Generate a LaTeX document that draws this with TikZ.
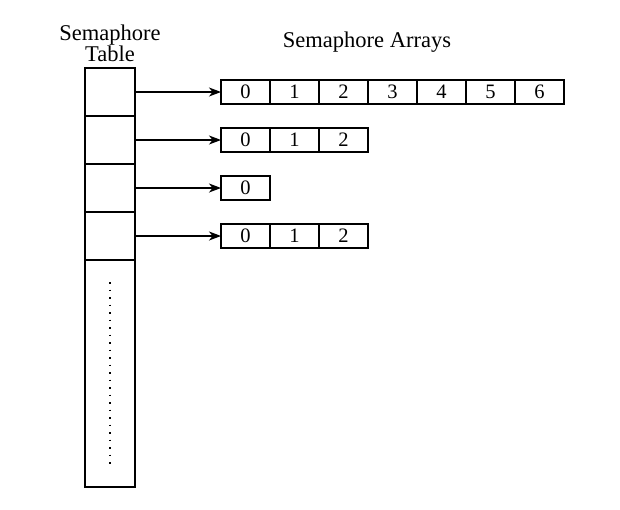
\documentclass[tikz,border=0pt]{standalone}
\usepackage{fontspec}
\setmainfont{Liberation Serif}
\usetikzlibrary{arrows.meta}
\begin{document}
\begin{tikzpicture}[x=1pt,y=-1pt, line width=1.3pt,
  tcell/.style={draw, minimum width=50pt, minimum height=48pt, inner sep=0pt, outer sep=0pt, anchor=north west},
  acell/.style={draw, minimum width=49pt, minimum height=24pt, inner sep=0pt, outer sep=0pt, anchor=north west, font=\fontsize{20.5}{20.5}\selectfont},
  ptr/.style={-{Stealth[length=12pt,width=9pt,inset=3.5pt]}, line width=1.1pt},
  lbl/.style={font=\fontsize{22.5}{21}\selectfont, align=center},
  dotline/.style={line width=1.6pt, dash pattern=on 1.6pt off 5.9pt}]
\useasboundingbox (0,0) rectangle (620,509);
% titles
\node[lbl] (ttitle) at (110,43) {Semaphore\\Table};
\node[lbl] (atitle) at (367,42) {Semaphore Arrays};
% table
\foreach \r in {0,1,2,3}
  \node[tcell] (t\r) at (85,{68+48*\r}) {};
\node[tcell, minimum height=227pt] (tail) at (85,260) {};
\coordinate (d1) at (110,282);
\coordinate (d2) at (110,464);
\draw[dotline] (d1) -- (d2);
% arrays
\foreach \r/\last in {0/6,1/2,2/0,3/2}{
  \foreach \c in {0,...,\last}
    \node[acell] (a\r\c) at ({221+49*\c},{80+48*\r}) {\c};
  \draw[ptr] (t\r.east) -- (a\r0.west);
}
\end{tikzpicture}
\end{document}
